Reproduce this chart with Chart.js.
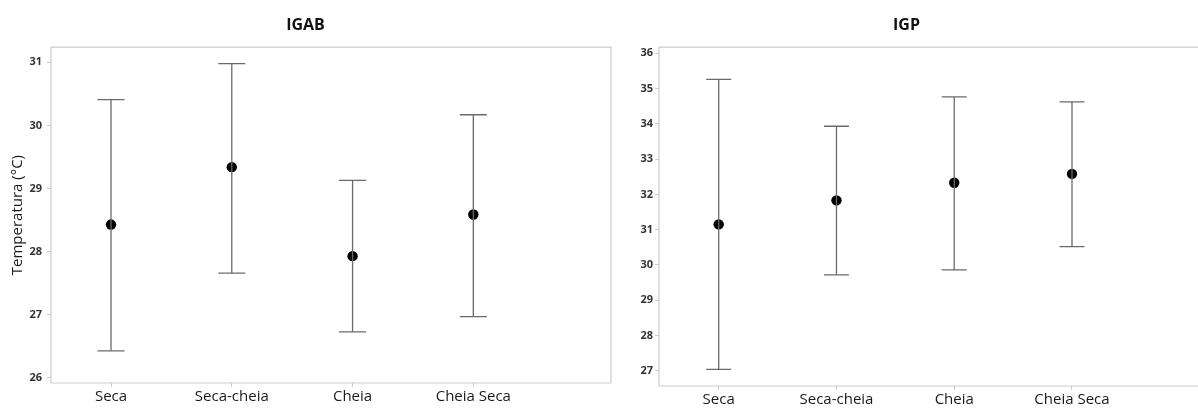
<!DOCTYPE html>
<html>
<head>
<meta charset="utf-8">
<script src="https://cdn.jsdelivr.net/npm/chart.js@4"></script>
<style>
  html, body { margin: 0; padding: 0; background: #fff; }
  #wrap { position: relative; width: 1198px; height: 408px; overflow: hidden; }
  .panel { position: absolute; top: 0; height: 408px; }
  #left { left: 0; width: 615px; }
  #right { left: 615px; width: 583px; }
</style>
</head>
<body>
<div id="wrap">
  <div class="panel" id="left"><canvas id="igab"></canvas></div>
  <div class="panel" id="right"><canvas id="igp"></canvas></div>
</div>
<script>
const categories = ['Seca', 'Seca-cheia', 'Cheia', 'Cheia Seca'];

const igabMean = [28.43, 29.34, 27.93, 28.59];
const igabLower = [26.43, 27.66, 26.73, 26.97];
const igabUpper = [30.41, 30.98, 29.13, 30.17];
const igabTicks = [26, 27, 28, 29, 30, 31];

const igpMean = [31.15, 31.83, 32.33, 32.58];
const igpLower = [27.04, 29.72, 29.86, 30.52];
const igpUpper = [35.26, 33.93, 34.76, 34.62];
const igpTicks = [27, 28, 29, 30, 31, 32, 33, 34, 35, 36];

const FONT = "'Open Sans', 'Noto Sans', sans-serif";
const LINE = '#6a6a6a';
const FRAME = '#cccccc';

// plot frame drawn on the chart area
const framePlugin = {
  id: 'frame',
  beforeDatasetsDraw(chart, args, opts) {
    const a = chart.chartArea;
    const ctx = chart.ctx;
    ctx.save();
    ctx.strokeStyle = FRAME;
    ctx.lineWidth = 1.2;
    ctx.beginPath();
    if (opts.openRight) {
      ctx.moveTo(chart.width, a.top);
      ctx.lineTo(a.left, a.top);
      ctx.lineTo(a.left, a.bottom);
      ctx.lineTo(chart.width, a.bottom);
    } else {
      ctx.rect(a.left, a.top, a.right - a.left, a.bottom - a.top);
    }
    ctx.stroke();
    ctx.restore();
  }
};

function makeChart(id, cfg) {
  const whiskers = [];
  const caps = [];
  categories.forEach((c, i) => {
    whiskers.push({ x: i, y: cfg.lower[i] }, { x: i, y: cfg.upper[i] }, { x: i, y: null });
    caps.push({ x: i, y: cfg.lower[i] }, { x: i, y: cfg.upper[i] });
  });
  const means = cfg.mean.map((v, i) => ({ x: i, y: v }));

  return new Chart(document.getElementById(id), {
    type: 'scatter',
    data: {
      datasets: [
        {
          type: 'line',
          data: whiskers,
          borderColor: LINE,
          borderWidth: 1.3,
          pointRadius: 0,
          spanGaps: false,
          fill: false
        },
        {
          data: caps,
          pointStyle: 'line',
          pointRadius: cfg.capRadius,
          pointBorderColor: LINE,
          pointBorderWidth: 1.3
        },
        {
          data: means,
          pointStyle: 'circle',
          pointRadius: 5.2,
          pointBackgroundColor: '#000',
          pointBorderColor: '#000',
          pointBorderWidth: 0
        }
      ]
    },
    plugins: [framePlugin],
    options: {
      responsive: true,
      maintainAspectRatio: false,
      animation: false,
      events: [],
      layout: { autoPadding: false, padding: { top: 1, right: cfg.padRight, bottom: 0, left: 0 } },
      plugins: {
        legend: { display: false },
        tooltip: { enabled: false },
        frame: { openRight: cfg.openRight },
        title: {
          display: true,
          text: cfg.title,
          color: '#111',
          font: { family: FONT, size: 16, weight: 'bold' },
          padding: { top: 15, bottom: 12 }
        }
      },
      scales: {
        x: {
          type: 'linear',
          min: cfg.xMin,
          max: cfg.xMax,
          afterBuildTicks: (scale) => {
            scale.ticks = categories.map((c, i) => ({ value: i }));
          },
          afterFit: (scale) => {
            scale.height = cfg.xHeight;
            scale.paddingLeft = 0;
            scale.paddingRight = 0;
          },
          grid: { drawOnChartArea: false, color: FRAME, tickLength: 4 },
          border: { display: false },
          ticks: {
            callback: (v) => categories[v],
            color: '#1a1a1a',
            padding: 1,
            autoSkip: false,
            maxRotation: 0,
            font: { family: FONT, size: 15 }
          }
        },
        y: {
          min: cfg.yMin,
          max: cfg.yMax,
          afterBuildTicks: (scale) => {
            scale.ticks = cfg.ticks.map(v => ({ value: v }));
          },
          afterFit: (scale) => { scale.width = cfg.yWidth; },
          grid: { drawOnChartArea: false, color: FRAME, tickLength: 4 },
          border: { display: false },
          title: {
            display: !!cfg.yTitle,
            text: cfg.yTitle || '',
            color: '#1a1a1a',
            font: { family: FONT, size: 15 },
            padding: { top: 9, bottom: 0 }
          },
          ticks: {
            color: '#333',
            padding: cfg.tickPad,
            font: { family: FONT, size: 11, weight: 'bold' }
          }
        }
      }
    }
  });
}

makeChart('igab', {
  title: 'IGAB',
  yTitle: 'Temperatura (°C)',
  mean: igabMean, lower: igabLower, upper: igabUpper, ticks: igabTicks,
  yMin: 25.92, yMax: 31.24,
  xMin: -0.497, xMax: 4.14,
  yWidth: 51, xHeight: 25, padRight: 4,
  tickPad: 5, capRadius: 13.5, openRight: false
});

makeChart('igp', {
  title: 'IGP',
  mean: igpMean, lower: igpLower, upper: igpUpper, ticks: igpTicks,
  yMin: 26.57, yMax: 36.17,
  xMin: -0.507, xMax: 4.07,
  yWidth: 44, xHeight: 22, padRight: 0,
  tickPad: 2, capRadius: 12.5, openRight: true
});
</script>
</body>
</html>
